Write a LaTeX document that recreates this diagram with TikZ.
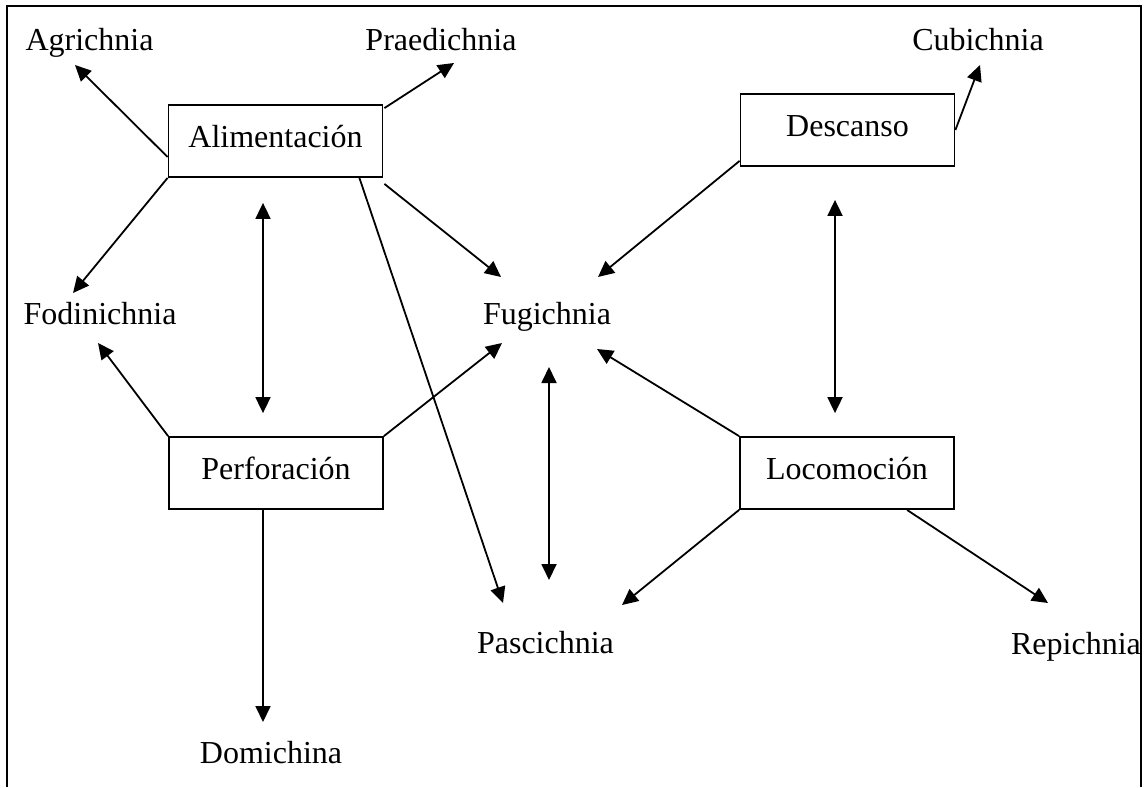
\documentclass[tikz,border=0pt]{standalone}
\usepackage{fontspec}
\setmainfont{Liberation Serif}
\usetikzlibrary{calc,arrows.meta}

\begin{document}
\begin{tikzpicture}[x=0.5pt, y=-0.5pt, line width=0.9pt,
	every node/.style={font=\fontsize{16}{19}\selectfont},
	caja/.style={draw, minimum width=107pt, minimum height=36pt, text height=10pt, text depth=4pt, inner sep=0pt},
	etiq/.style={anchor=base, inner sep=0pt},
	flecha/.style={-{Triangle[length=8pt,width=7.5pt]}},
	doble/.style={{Triangle[length=8pt,width=7.5pt]}-{Triangle[length=8pt,width=7.5pt]}}]
		%%%%% START %%%%%
		\useasboundingbox (0,0) rectangle (1144,787);
		\draw[line width=1.1pt] (7,787) -- (7,6) -- (1141,6) -- (1141,787);
		
		\node[caja] (ali) at (275.5,141) {Alimentación};
		\node[caja] (des) at (847.5,130) {Descanso};
		\node[caja] (per) at (276,473) {Perforación};
		\node[caja] (loc) at (847,473) {Locomoción};
		
		\node[etiq] (agr) at (89.5,50) {Agrichnia};
		\node[etiq] (pra) at (441,50) {Praedichnia};
		\node[etiq] (cub) at (978,50) {Cubichnia};
		\node[etiq] (fod) at (100,324) {Fodinichnia};
		\node[etiq] (fug) at (547,324) {Fugichnia};
		\node[etiq] (pas) at (545.5,653) {Pascichnia};
		\node[etiq] (rep) at (1076,654) {Repichnia};
		\node[etiq] (dom) at (271,763) {Domichina};
		
		% alimentacion
		\draw[flecha] ($(ali.west)+(0,16)$) -- ($(agr.base)+(-14.5,15)$);
		\draw[flecha] ($(ali.north east)+(1,4)$) -- ($(pra.base)+(13,13)$);
		\draw[flecha] (ali.south west) -- ($(fod.base)+(-27,-31)$);
		\draw[flecha] ($(ali.south east)+(1,6)$) -- ($(fug.base)+(-46,-47)$);
		\draw[flecha] ($(ali.south east)+(-24,0)$) -- ($(pas.base)+(-42.5,-50)$);
		\draw[doble] ($(ali.south)+(-12.5,25)$) -- ($(per.north)+(-13,-23)$);
		
		% perforacion
		\draw[flecha] (per.north west) -- ($(fod.base)+(-2,19)$);
		\draw[flecha] (per.north east) -- ($(fug.base)+(-45,19)$);
		\draw[flecha] ($(per.south)+(-13,0)$) -- ($(dom.base)+(-8,-41)$);
		
		% descanso
		\draw[flecha] ($(des.south west)+(0,-6)$) -- ($(fug.base)+(51,-47)$);
		\draw[flecha] (des.east) -- ($(cub.base)+(2,15)$);
		\draw[doble] ($(des.south)+(-12.5,33)$) -- ($(loc.north)+(-12,-23)$);
		
		% locomocion
		\draw[flecha] (loc.north west) -- ($(fug.base)+(50,25)$);
		\draw[flecha] (loc.south west) -- ($(pas.base)+(76.5,-48)$);
		\draw[flecha] ($(loc.south)+(60,0)$) -- ($(rep.base)+(-28,-51)$);
		
		\draw[doble] ($(fug.base)+(2,43)$) -- ($(pas.base)+(3.5,-73)$);
		%%%%% END %%%%%
	\end{tikzpicture}
\end{document}
